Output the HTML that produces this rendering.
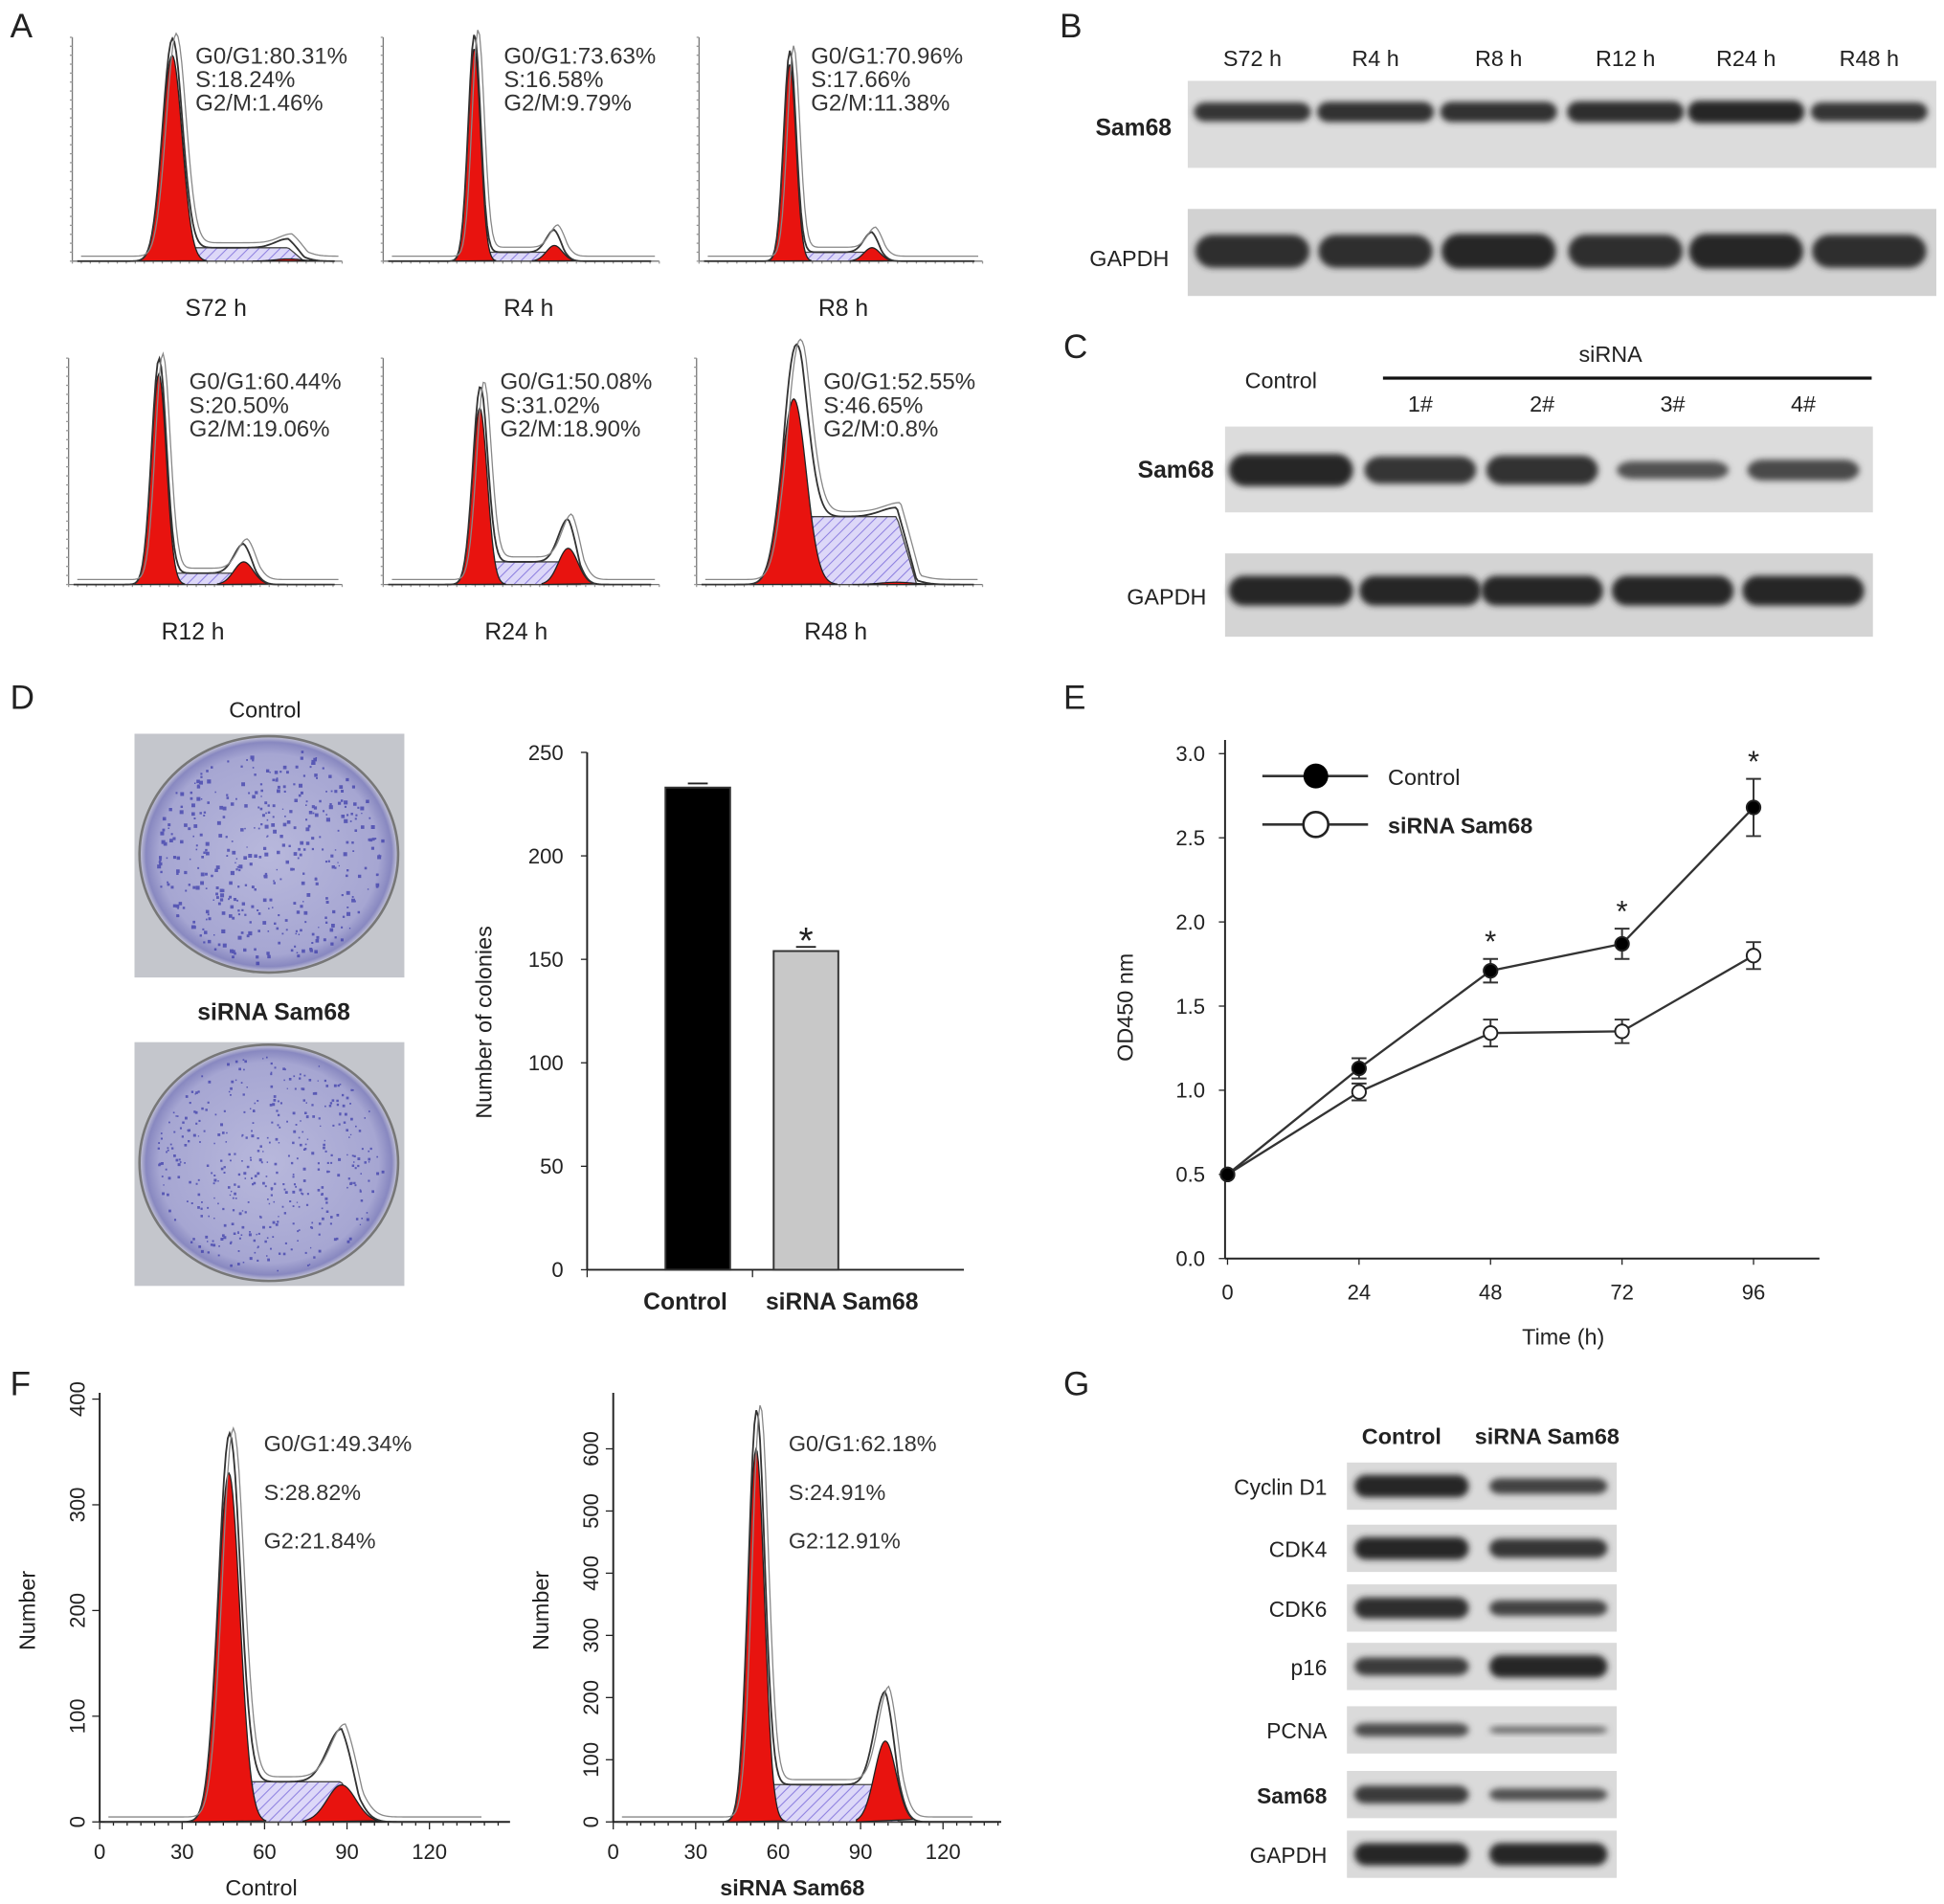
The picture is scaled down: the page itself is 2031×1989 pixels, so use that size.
<!DOCTYPE html>
<html><head><meta charset="utf-8"><style>
html,body{margin:0;padding:0;background:#fff;}
svg{display:block;font-family:"Liberation Sans",Arial,sans-serif;}
</style></head><body>
<svg id="fig" width="2031" height="1989" viewBox="0 0 1563 1531" xmlns="http://www.w3.org/2000/svg">
<defs>
<pattern id="hatch" width="6" height="6" patternUnits="userSpaceOnUse" patternTransform="rotate(45)">
<rect width="6" height="6" fill="#ddd8f8"/><line x1="0" y1="0" x2="0" y2="6" stroke="#8d7fe0" stroke-width="1.6"/></pattern>
<filter id="blur" x="-20%" y="-60%" width="140%" height="220%"><feGaussianBlur stdDeviation="2.5"/></filter>
<radialGradient id="plate" cx="50%" cy="50%" r="50%"><stop offset="0" stop-color="#b8b8dc"/><stop offset="0.85" stop-color="#a6a6d2"/><stop offset="0.95" stop-color="#8888c0"/><stop offset="1" stop-color="#c8c8d8"/></radialGradient>
</defs>
</svg>
<script>
// ===== Data =====
const aLabels=["S72 h","R4 h","R8 h","R12 h","R24 h","R48 h"];
const aG1=["G0/G1:80.31%","G0/G1:73.63%","G0/G1:70.96%","G0/G1:60.44%","G0/G1:50.08%","G0/G1:52.55%"];
const aS=["S:18.24%","S:16.58%","S:17.66%","S:20.50%","S:31.02%","S:46.65%"];
const aG2=["G2/M:1.46%","G2/M:9.79%","G2/M:11.38%","G2/M:19.06%","G2/M:18.90%","G2/M:0.8%"];
const aG1pos=[0.37,0.33,0.32,0.33,0.35,0.34];
const aG1h=[0.92,0.95,0.88,0.93,0.78,0.82];
const aG1sd=[8,5,5,6,6,10];
const aG2pos=[0.8,0.62,0.61,0.64,0.67,0.7];
const aG2h=[0.01,0.07,0.06,0.1,0.16,0.01];
const aSh=[0.06,0.04,0.04,0.05,0.1,0.3];
const bLanes=["S72 h","R4 h","R8 h","R12 h","R24 h","R48 h"];
const bSam=[0.85,0.9,0.9,0.95,1,0.85];
const bGapdh=[0.95,0.95,1,0.95,1,0.95];
const cLanes=["Control","1#","2#","3#","4#"];
const cSam=[1,0.85,0.9,0.55,0.65];
const cGapdh=[1,1,1,1,1];
const dCats=["Control","siRNA Sam68"];
const dVals=[233,154];
const dErr=[2,2];
const dTicks=[0,50,100,150,200,250];
const eTimes=[0,24,48,72,96];
const eCtrl=[0.5,1.13,1.71,1.87,2.68];
const eCtrlErr=[0,0.06,0.07,0.09,0.17];
const eSi=[0.5,0.99,1.34,1.35,1.80];
const eSiErr=[0,0.05,0.08,0.07,0.08];
const eYTicks=[0,0.5,1.0,1.5,2.0,2.5,3.0];
const eStars=[48,72,96];
const fTexts=[["G0/G1:49.34%","S:28.82%","G2:21.84%"],["G0/G1:62.18%","S:24.91%","G2:12.91%"]];
const fG1pos=[47,52];const fG1h=[330,600];const fG1sd=[4,3];
const fG2pos=[88,99];const fG2h=[35,130];const fSh=[38,60];
const fEnvG2=[50,150];
const fYTicksL=[0,100,200,300,400];const fYTicksR=[0,100,200,300,400,500,600];
const fXTicks=[0,30,60,90,120];
const gRows=["Cyclin D1","CDK4","CDK6","p16","PCNA","Sam68","GAPDH"];
const gCtrl=[1,1,0.95,0.8,0.6,0.8,1];
const gSi=[0.7,0.85,0.7,1,0.3,0.55,1];

// ===== Helpers =====
const NS="http://www.w3.org/2000/svg";
const svg=document.getElementById('fig');
function mk(tag,attrs,name,parent,inter){
  const e=document.createElementNS(NS,tag);
  for(const k in attrs)e.setAttribute(k,attrs[k]);
  
  
  (parent||svg).appendChild(e);return e;
}
function txt(x,y,s,size,name,opts,parent){
  opts=opts||{};
  const t=mk('text',Object.assign({x:x,y:y,'font-size':size,fill:opts.fill||'#222'},opts.a||{}),name,parent);
  t.textContent=s;return t;
}
function gauss(x,mu,sd){return Math.exp(-0.5*((x-mu)/sd)*((x-mu)/sd));}

function hist(g,x0,x1,base,top,mu,H,sd,mu2,H2,Sh,envExtra){
  const sc=(v)=>base-(base-top)*v;
  let sp=`M${mu-sd} ${base}`;
  for(let x=mu-sd;x<=mu2+sd*1.2;x+=2){
    const rise=Math.min(1,(x-(mu-sd))/(sd*1.6)),fall=Math.min(1,Math.max(0,(mu2+sd*1.6-x)/(sd*1.6)));
    sp+=` L${x} ${sc(Sh*rise*fall)}`;
  }
  sp+=` L${mu2+sd*1.6} ${base} Z`;
  mk('path',{d:sp,fill:'url(#hatch)',stroke:'#444','stroke-width':1},'s-phase-area',g);
  let p=`M${mu-sd*3.5} ${base}`;
  for(let x=mu-sd*3.5;x<=mu+sd*3.5;x+=1)p+=` L${x} ${sc(H*gauss(x,mu,sd))}`;
  p+=' Z';
  mk('path',{d:p,fill:'#e8130f',stroke:'#222','stroke-width':1},'g1-peak',g);
  let p2=`M${mu2-sd*3.5} ${base}`;
  for(let x=mu2-sd*3.5;x<=mu2+sd*3.5;x+=1)p2+=` L${x} ${sc(H2*gauss(x,mu2,sd*1.3))}`;
  p2+=' Z';
  mk('path',{d:p2,fill:'#e8130f',stroke:'#222','stroke-width':1},'g2-peak',g);
  let e=`M${x0+4} ${base}`;
  for(let x=x0+4;x<=x1-6;x+=1.5){
    const rise=Math.min(1,Math.max(0,(x-(mu-sd))/(sd*1.6))),fall=Math.min(1,Math.max(0,(mu2+sd*1.6-x)/(sd*1.6)));
    const v=H*1.04*gauss(x,mu,sd)+Sh*rise*fall+(H2+envExtra)*gauss(x,mu2,sd*1.3);
    e+=` L${x} ${sc(v)}`;
  }
  mk('path',{d:e,fill:'none',stroke:'#333','stroke-width':1.4},'histogram-envelope',g);
  mk('path',{d:e,fill:'none',stroke:'#888','stroke-width':1,transform:'translate(3,-4)'},'histogram-fit-line',g);
}
function band(g,cx,cy,w,h,int,name){
  const c=Math.round(40+(1-int)*90);
  mk('rect',{x:cx-w/2,y:cy-h/2*int,width:w,height:Math.max(4,h*int),rx:h/2,fill:`rgb(${c},${c},${c})`,filter:'url(#blur)'},name,g);
}

// ===== Panel letters =====
[["A",8,30],["B",852,30],["C",855,288],["D",8,570],["E",855,570],["F",8,1122],["G",855,1122]].forEach(l=>{
  txt(l[1],l[2],l[0],27,'panel-label-'+l[0].toLowerCase());
});

// ===== Panel A =====
const aBoxes=[[58,275,210,30],[308,530,210,30],[562,790,210,30],[55,275,470,288],[308,530,470,288],[560,790,470,288]];
const aTextX=[157,405,652,152,402,662];
const aLabOff=[7,6,2,-10,-4,-3];
aBoxes.forEach((b,i)=>{
  const g=mk('g',{},'cell-cycle-histogram-'+aLabels[i].replace(' ','').toLowerCase());
  mk('line',{x1:b[0],y1:b[3],x2:b[0],y2:b[2],stroke:'#777','stroke-width':1},'y-axis',g);
  mk('line',{x1:b[0],y1:b[2],x2:b[1],y2:b[2],stroke:'#777','stroke-width':1},'x-axis',g);
  for(let k=0;k<=30;k++){const x=b[0]+(b[1]-b[0])*k/30;mk('line',{x1:x,y1:b[2],x2:x,y2:b[2]+2,stroke:'#999'},'x-tick',g);}
  for(let k=0;k<=25;k++){const y=b[2]-(b[2]-b[3])*k/25;mk('line',{x1:b[0]-2,y1:y,x2:b[0],y2:y,stroke:'#999'},'y-tick',g);}
  const w=b[1]-b[0];
  hist(g,b[0],b[1],b[2],b[3],b[0]+w*aG1pos[i],aG1h[i],aG1sd[i],b[0]+w*aG2pos[i],aG2h[i],aSh[i],0.03);
  const cx=(b[0]+b[1])/2+aLabOff[i];
  txt(cx,b[2]+44,aLabels[i],19,'histogram-label',{a:{'text-anchor':'middle'}},g);
  [aG1[i],aS[i],aG2[i]].forEach((s,k)=>txt(aTextX[i],(i<3?51:313)+k*19,s,18.5,'phase-percentage',{fill:'#333'},g));
});

// ===== Panel B =====
const bLaneX=[1007,1106,1205,1307,1404,1503];
const gB=mk('g',{},'western-blot-b');
mk('rect',{x:955,y:65,width:602,height:70,fill:'#dcdcdc'},'blot-row-sam68',gB);
mk('rect',{x:955,y:168,width:602,height:70,fill:'#d2d2d2'},'blot-row-gapdh',gB);
bLanes.forEach((l,i)=>{
  txt(bLaneX[i],53,l,18,'lane-label',{a:{'text-anchor':'middle'}},gB);
  band(gB,bLaneX[i],90,94,18,bSam[i],'band-sam68');
  band(gB,bLaneX[i],202,92,28,bGapdh[i],'band-gapdh');
});
txt(942,109,"Sam68",19,'row-label-sam68',{a:{'text-anchor':'end','font-weight':'bold'}},gB);
txt(940,214,"GAPDH",18,'row-label-gapdh',{a:{'text-anchor':'end'}},gB);

// ===== Panel C =====
const cLaneX=[1038,1142,1240,1345,1450];
const gC=mk('g',{},'western-blot-c');
mk('rect',{x:985,y:343,width:521,height:69,fill:'#dcdcdc'},'blot-row-sam68',gC);
mk('rect',{x:985,y:445,width:521,height:67,fill:'#d4d4d4'},'blot-row-gapdh',gC);
txt(1030,312,"Control",18,'lane-label-control',{a:{'text-anchor':'middle'}},gC);
txt(1295,291,"siRNA",18,'sirna-label',{a:{'text-anchor':'middle'}},gC);
mk('line',{x1:1112,y1:304,x2:1505,y2:304,stroke:'#111','stroke-width':2.5},'sirna-bracket-line',gC);
cLanes.forEach((l,i)=>{
  if(i>0)txt(cLaneX[i],331,l,18,'lane-label',{a:{'text-anchor':'middle'}},gC);
  band(gC,cLaneX[i],378,i==0?100:90,26,cSam[i],'band-sam68');
  band(gC,cLaneX[i],475,i==0?100:98,24,cGapdh[i],'band-gapdh');
});
txt(976,384,"Sam68",19,'row-label-sam68',{a:{'text-anchor':'end','font-weight':'bold'}},gC);
txt(970,486,"GAPDH",18,'row-label-gapdh',{a:{'text-anchor':'end'}},gC);

// ===== Panel D: plates =====
const gP=mk('g',{},'colony-plates');
txt(213,577,"Control",18,'plate-label-control',{a:{'text-anchor':'middle'}},gP);
txt(220,820,"siRNA Sam68",19,'plate-label-sirna',{a:{'text-anchor':'middle','font-weight':'bold'}},gP);
function hsh(n){const s=Math.sin(n*12.9898)*43758.5453;return s-Math.floor(s);}
[[108,590,1],[108,838,0.6]].forEach((p,j)=>{
  mk('rect',{x:p[0],y:p[1],width:217,height:196,fill:'#c4c6cc'},'plate-photo-background',gP);
  mk('ellipse',{cx:p[0]+108,cy:p[1]+97,rx:104,ry:95,fill:'url(#plate)',stroke:'#777','stroke-width':2},'culture-plate',gP);
  let d='';
  for(let k=0;k<420;k++){
    const a=hsh(k+j*1000)*Math.PI*2,r=Math.sqrt(hsh(k*3.7+j*500+1))*92;
    const x=p[0]+108+r*Math.cos(a),y=p[1]+97+r*Math.sin(a)*0.95;
    const s=(1+hsh(k*7.1)*2.2*p[2]).toFixed(1);
    d+=`M${x.toFixed(1)} ${y.toFixed(1)}h${s}v${s}h-${s}z`;
  }
  mk('path',{d:d,fill:'#3838a8',opacity:0.7},'colony-dots',gP);
});

// ===== Panel D: bar chart =====
const gD=mk('g',{},'colony-bar-chart');
const dX0=472,dY0=1021,dYtop=605,dMax=250;
const dy=v=>dY0-(dY0-dYtop)*v/dMax;
const dBarX=[561,648];
mk('line',{x1:dX0,y1:dYtop,x2:dX0,y2:dY0,stroke:'#222','stroke-width':1.5},'y-axis',gD);
mk('line',{x1:dX0,y1:dY0,x2:775,y2:dY0,stroke:'#222','stroke-width':1.5},'x-axis',gD);
dTicks.forEach(t=>{
  mk('line',{x1:dX0-5,y1:dy(t),x2:dX0,y2:dy(t),stroke:'#222'},'y-tick',gD);
  txt(dX0-19,dy(t)+6,String(t),17,'y-tick-label',{a:{'text-anchor':'end'}},gD);
});
mk('line',{x1:dX0,y1:dY0,x2:dX0,y2:dY0+6,stroke:'#222'},'x-tick',gD);
mk('line',{x1:605,y1:dY0,x2:605,y2:dY0+6,stroke:'#222'},'x-tick',gD);
dVals.forEach((v,i)=>{
  mk('rect',{x:dBarX[i]-26,y:dy(v),width:52,height:dY0-dy(v),fill:i==0?'#000':'#c8c8c8',stroke:'#333','stroke-width':1.5},'bar-'+(i==0?'control':'sirna-sam68'),gD);
  mk('line',{x1:dBarX[i]-8,y1:dy(v+dErr[i]),x2:dBarX[i]+8,y2:dy(v+dErr[i]),stroke:'#222','stroke-width':1.5},'error-bar',gD);
  txt(i==0?551:677,1053,dCats[i],19,'x-tick-label',{a:{'text-anchor':'middle','font-weight':'bold'}},gD);
});
txt(dBarX[1],dy(dVals[1])+2,"*",30,'significance-star',{a:{'text-anchor':'middle'}},gD);
txt(0,0,"Number of colonies",18,'y-axis-title',{a:{'text-anchor':'middle',transform:'translate(395,822) rotate(-90)'}},gD);

// ===== Panel E =====
const gE=mk('g',{},'od450-line-chart');
const eX0=985,eY0=1012,eYtop=606,eXend=1463;
const ex=t=>987+(1410-987)*t/96;
const ey=v=>eY0-(eY0-eYtop)*v/3;
mk('line',{x1:eX0,y1:595,x2:eX0,y2:eY0,stroke:'#222','stroke-width':1.5},'y-axis',gE);
mk('line',{x1:eX0,y1:eY0,x2:eXend,y2:eY0,stroke:'#222','stroke-width':1.5},'x-axis',gE);
eYTicks.forEach(t=>{
  mk('line',{x1:eX0-5,y1:ey(t),x2:eX0,y2:ey(t),stroke:'#222'},'y-tick',gE);
  txt(eX0-16,ey(t)+6,t.toFixed(1),17,'y-tick-label',{a:{'text-anchor':'end'}},gE);
});
eTimes.forEach(t=>{
  mk('line',{x1:ex(t),y1:eY0,x2:ex(t),y2:eY0+5,stroke:'#222'},'x-tick',gE);
  txt(ex(t),eY0+33,String(t),17,'x-tick-label',{a:{'text-anchor':'middle'}},gE);
});
txt(1257,1081,"Time (h)",18,'x-axis-title',{a:{'text-anchor':'middle'}},gE);
txt(0,0,"OD450 nm",18,'y-axis-title',{a:{'text-anchor':'middle',transform:'translate(911,810) rotate(-90)'}},gE);
[[eSi,eSiErr,'#fff','sirna-sam68'],[eCtrl,eCtrlErr,'#000','control']].forEach(s=>{
  mk('polyline',{points:eTimes.map((t,i)=>ex(t)+','+ey(s[0][i])).join(' '),fill:'none',stroke:'#333','stroke-width':1.8},'series-line-'+s[3],gE);
  eTimes.forEach((t,i)=>{
    if(s[1][i]>0){
      const x=ex(t);
      mk('path',{d:`M${x} ${ey(s[0][i]-s[1][i])}V${ey(s[0][i]+s[1][i])}M${x-6} ${ey(s[0][i]-s[1][i])}h12M${x-6} ${ey(s[0][i]+s[1][i])}h12`,stroke:'#333','stroke-width':1.5,fill:'none'},'error-bar',gE);
    }
    mk('circle',{cx:ex(t),cy:ey(s[0][i]),r:5.5,fill:s[2],stroke:'#222','stroke-width':1.5},'point-'+s[3],gE);
  });
});
eStars.forEach(t=>{
  const i=eTimes.indexOf(t);
  txt(ex(t),ey(eCtrl[i]+eCtrlErr[i])-6,"*",24,'significance-star',{a:{'text-anchor':'middle'}},gE);
});
mk('line',{x1:1015,y1:624,x2:1100,y2:624,stroke:'#333','stroke-width':2},'legend-line-control',gE);
mk('circle',{cx:1058,cy:624,r:10,fill:'#000'},'legend-marker-control',gE);
txt(1116,631,"Control",18,'legend-entry-control',{},gE);
mk('line',{x1:1015,y1:663,x2:1100,y2:663,stroke:'#333','stroke-width':2},'legend-line-sirna',gE);
mk('circle',{cx:1058,cy:663,r:10,fill:'#fff',stroke:'#222','stroke-width':2},'legend-marker-sirna',gE);
txt(1116,670,"siRNA Sam68",18,'legend-entry-sirna',{a:{'font-weight':'bold'}},gE);

// ===== Panel F =====
const fCfg=[{x0:80,xEnd:410,label:"Control",bold:false,tx:212,lx:210,ticks:fYTicksL},
            {x0:493,xEnd:805,label:"siRNA Sam68",bold:true,tx:634,lx:637,ticks:fYTicksR}];
const fY0=1465;
fCfg.forEach((c,j)=>{
  const g=mk('g',{},'flow-histogram-'+(j==0?'control':'sirna'));
  const fx=v=>c.x0+(66.3/30)*v;
  const perUnit=j==0?(fY0-1125)/400:(fY0-1165)/600;
  const fy=v=>fY0-v*perUnit;
  mk('line',{x1:c.x0,y1:1120,x2:c.x0,y2:fY0,stroke:'#222','stroke-width':1.5},'y-axis',g);
  mk('line',{x1:c.x0,y1:fY0,x2:c.xEnd,y2:fY0,stroke:'#222','stroke-width':1.5},'x-axis',g);
  c.ticks.forEach(t=>{
    mk('line',{x1:c.x0-6,y1:fy(t),x2:c.x0,y2:fy(t),stroke:'#222'},'y-tick',g);
    txt(0,0,String(t),17,'y-tick-label',{a:{'text-anchor':'middle',transform:`translate(${c.x0-12},${fy(t)}) rotate(-90)`}},g);
  });
  for(let v=0;v<=145;v+=5){if(fx(v)>c.xEnd)break;mk('line',{x1:fx(v),y1:fY0,x2:fx(v),y2:fY0+(v%30==0?6:3),stroke:'#222'},'x-tick',g);}
  fXTicks.forEach(t=>txt(fx(t),fY0+30,String(t),17,'x-tick-label',{a:{'text-anchor':'middle'}},g));
  txt(c.lx,fY0+59,c.label,18,'x-axis-title',{a:{'text-anchor':'middle','font-weight':c.bold?'bold':'normal'}},g);
  txt(0,0,"Number",18,'y-axis-title',{a:{'text-anchor':'middle',transform:`translate(${c.x0-52},1295) rotate(-90)`}},g);
  const hScale=(fY0-1125);
  hist(g,c.x0,c.xEnd-20,fY0,1125,fx(fG1pos[j]),fG1h[j]*perUnit/hScale,fx(fG1sd[j])-c.x0,fx(fG2pos[j]),fG2h[j]*perUnit/hScale,fSh[j]*perUnit/hScale,(fEnvG2[j]-fG2h[j])*perUnit/hScale);
  fTexts[j].forEach((s,k)=>txt(c.tx,1167+k*39,s,18,'phase-percentage',{fill:'#333'},g));
});

// ===== Panel G =====
const gG=mk('g',{},'western-blot-g');
const gRowY=[1195,1245,1293,1340,1391,1443,1491];
txt(1127,1161,"Control",18,'lane-label-control',{a:{'text-anchor':'middle','font-weight':'bold'}},gG);
txt(1244,1161,"siRNA Sam68",18,'lane-label-sirna',{a:{'text-anchor':'middle','font-weight':'bold'}},gG);
gRows.forEach((r,i)=>{
  mk('rect',{x:1083,y:gRowY[i]-19,width:217,height:38,fill:'#dadada'},'blot-row',gG);
  band(gG,1135,gRowY[i],92,18,gCtrl[i],'band-control');
  band(gG,1245,gRowY[i],95,18,gSi[i],'band-sirna');
  txt(1067,gRowY[i]+7,r,17.5,'row-label',{a:{'text-anchor':'end','font-weight':r=="Sam68"?'bold':'normal'}},gG);
});
</script>
</body></html>
